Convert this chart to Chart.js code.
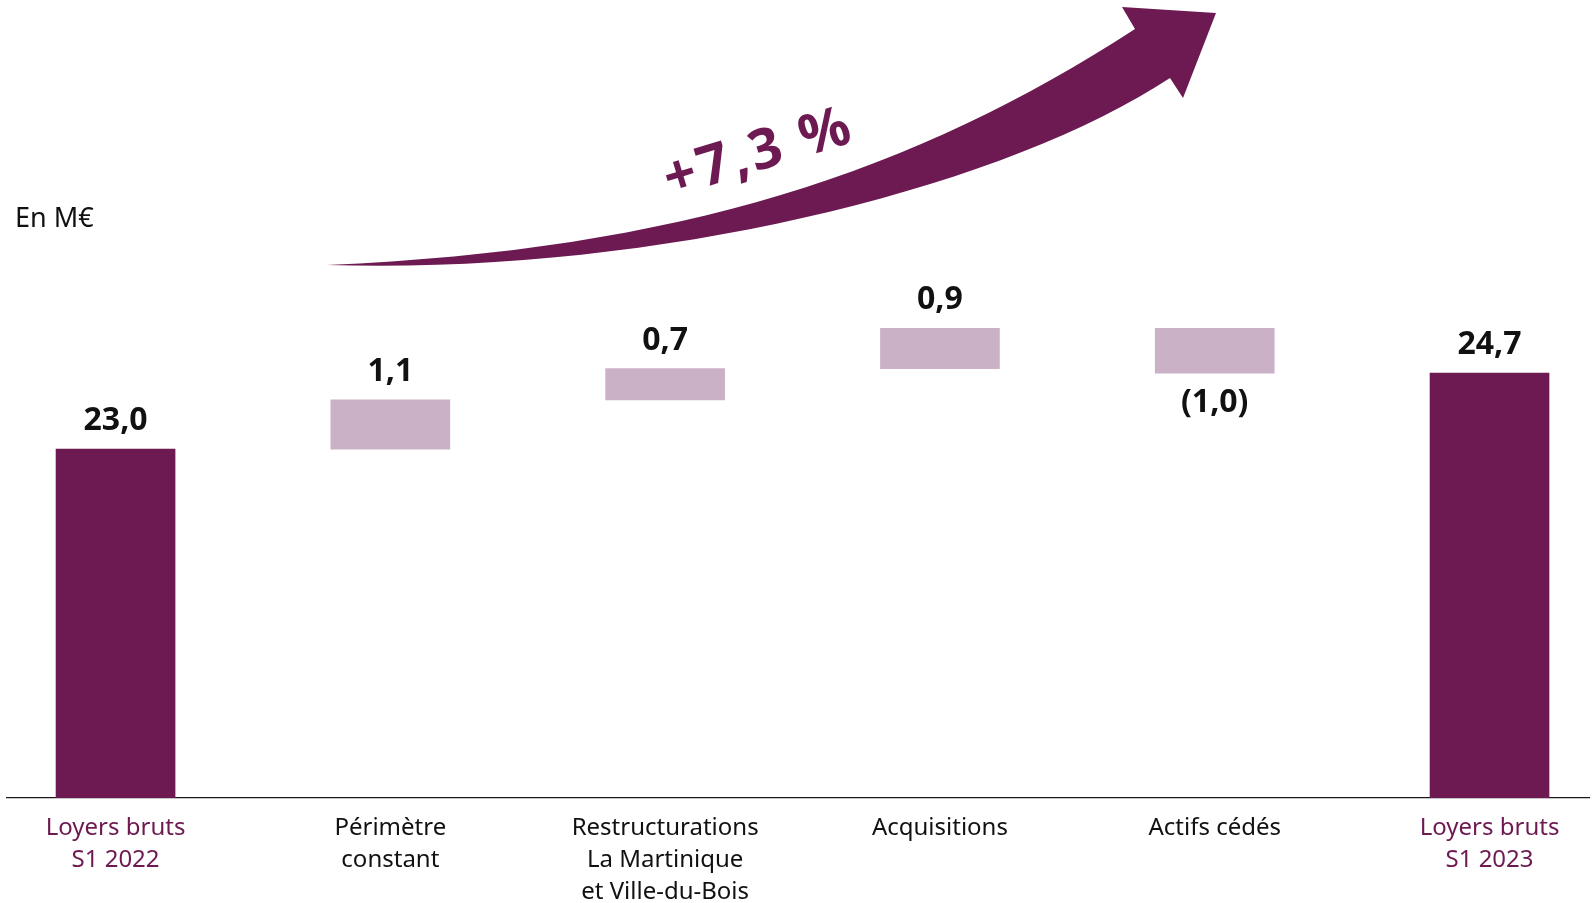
<!DOCTYPE html>
<html lang="fr">
<head>
<meta charset="utf-8">
<title>Loyers bruts S1 2022 - S1 2023</title>
<script src="https://cdn.jsdelivr.net/npm/chart.js@4.4.1/dist/chart.umd.min.js"></script>
<style>
  html, body { margin: 0; padding: 0; background: #ffffff; }
  #zone { width: 1594px; height: 903px; position: relative; }
</style>
</head>
<body>
<div id="zone"><canvas id="miGrafica"></canvas></div>
<script>
// données (en M€)
const categories = [
    ['Loyers bruts', 'S1 2022'],
    ['Périmètre', 'constant'],
    ['Restructurations', 'La Martinique', 'et Ville-du-Bois'],
    ['Acquisitions'],
    ['Actifs cédés'],
    ['Loyers bruts', 'S1 2023']
];
const variations = [23.0, 1.1, 0.7, 0.9, -1.0, 24.7];
const estTotal = [true, false, false, false, false, true];
const hausse = '+7,3 %';
const unite = 'En M€';

const violet = '#6d1a52';
const violetClair = '#cbb1c5';
const noir = '#111111';
const police = '"Noto Sans", "DejaVu Sans", sans-serif';

// barres flottantes de la cascade
let cumul = 0;
const barres = variations.map((v, i) => {
    if (estTotal[i]) {
        cumul = v;
        return { x: i, y: [0, v] };
    }
    const debut = cumul;
    cumul = cumul + v;
    return { x: i, y: [debut, cumul] };
});

function formatFr(v) {
    const txt = Math.abs(v).toFixed(1).replace('.', ',');
    return v < 0 ? '(' + txt + ')' : txt;
}

// étiquettes de valeur au-dessus / en dessous des barres
const etiquettesValeurs = {
    id: 'etiquettesValeurs',
    afterDatasetsDraw(chart) {
        const ctx = chart.ctx;
        const meta = chart.getDatasetMeta(0);
        ctx.save();
        ctx.font = 'bold 32px ' + police;
        ctx.fillStyle = noir;
        ctx.textAlign = 'center';
        ctx.textBaseline = 'alphabetic';
        meta.data.forEach((bar, i) => {
            const haut = Math.min(bar.y, bar.base);
            const bas = Math.max(bar.y, bar.base);
            if (variations[i] < 0) {
                ctx.fillText(formatFr(variations[i]), bar.x, bas + 39);
            } else {
                ctx.fillText(formatFr(variations[i]), bar.x, haut - 19);
            }
        });
        ctx.restore();
    }
};

// flèche courbe, "+7,3 %" et unité
const decor = {
    id: 'decor',
    afterDraw(chart) {
        const ctx = chart.ctx;
        ctx.save();

        ctx.fillStyle = noir;
        ctx.font = '27px ' + police;
        ctx.textAlign = 'left';
        ctx.textBaseline = 'alphabetic';
        ctx.fillText(unite, 15, 227);

        ctx.fillStyle = violet;
        ctx.beginPath();
        ctx.moveTo(327, 265);
        ctx.bezierCurveTo(680, 250, 915, 172, 1135, 29);
        ctx.lineTo(1122, 7);
        ctx.lineTo(1216, 13);
        ctx.lineTo(1183, 98);
        ctx.lineTo(1170, 78);
        ctx.bezierCurveTo(1000, 190, 650, 275, 327, 265);
        ctx.closePath();
        ctx.fill();

        ctx.translate(759, 154);
        ctx.rotate(-17 * Math.PI / 180);
        ctx.font = 'bold 56px ' + police;
        ctx.letterSpacing = '3px';
        ctx.textAlign = 'center';
        ctx.textBaseline = 'middle';
        ctx.fillText(hausse, 0, 0);

        ctx.restore();
    }
};

const ctx = document.getElementById('miGrafica').getContext('2d');

new Chart(ctx, {
    type: 'bar',
    data: {
        datasets: [{
            data: barres,
            backgroundColor: estTotal.map(t => t ? violet : violetClair),
            borderWidth: 0,
            barThickness: 119,
            clip: 0
        }]
    },
    options: {
        responsive: true,
        maintainAspectRatio: false,
        animation: false,
        layout: { padding: { top: 136, left: 7, right: 5, bottom: 0 } },
        plugins: {
            legend: { display: false },
            tooltip: { enabled: false }
        },
        scales: {
            x: {
                type: 'linear',
                offset: false,
                min: -0.395,
                max: 5.362,
                grid: { display: false },
                border: { display: true, color: '#1a1a1a', width: 1.3 },
                afterBuildTicks: axis => {
                    axis.ticks = categories.map((c, i) => ({ value: i }));
                },
                afterFit: axis => { axis.height = 105; },
                ticks: {
                    autoSkip: false,
                    maxRotation: 0,
                    padding: 6,
                    font: { family: police, size: 24, lineHeight: 1.333 },
                    color: c => estTotal[c.index] ? violet : noir,
                    callback: v => categories[v]
                }
            },
            y: {
                display: false,
                min: 15.2,
                max: 30
            }
        }
    },
    plugins: [etiquettesValeurs, decor]
});
</script>
</body>
</html>
